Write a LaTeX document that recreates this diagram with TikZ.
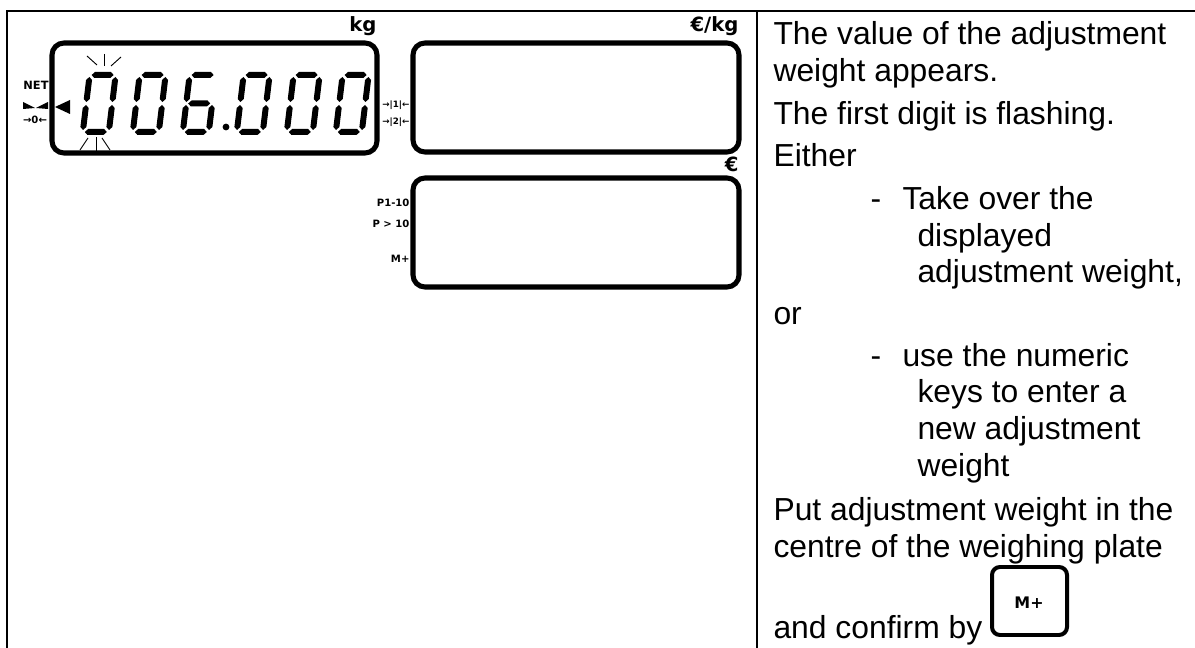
\documentclass[tikz,border=0pt]{standalone}
\usepackage{fontspec}
\setmainfont{Liberation Sans}
\newfontfamily\symfont{DejaVu Sans}
\usetikzlibrary{positioning}

% one segment of a seven-segment digit (pixel units, y pointing down)
\newcommand{\hseg}[3]{\fill (#1,#3) -- (#1+3,#3-3) -- (#2-3,#3-3) -- (#2,#3) -- (#2-3,#3+3) -- (#1+3,#3+3) -- cycle;}
\newcommand{\vseg}[3]{\fill (#1,#2) -- (#1+3,#2+3) -- (#1+3,#3-3) -- (#1,#3) -- (#1-3,#3-3) -- (#1-3,#2+3) -- cycle;}
\newcommand{\segA}{\hseg{5}{27}{3}}
\newcommand{\segB}{\vseg{29}{5}{30}}
\newcommand{\segC}{\vseg{29}{33}{58}}
\newcommand{\segD}{\hseg{5}{27}{60}}
\newcommand{\segE}{\vseg{3}{33}{58}}
\newcommand{\segF}{\vseg{3}{5}{30}}
\newcommand{\segG}{\hseg{5}{27}{31.5}}
\newcommand{\lcddigit}[3]{\begin{scope}[shift={(#1,#2)}, xslant=0.12] #3 \end{scope}}

\tikzset{
  frame/.style={line width=0.75pt},
  lcdbox/.style={line width=1.9pt, rounded corners=4.5pt},
  keybox/.style={line width=1.5pt, rounded corners=3pt},
  flash/.style={line width=0.35pt},
  bodytext/.style={anchor=base west, inner sep=0pt, font=\fontsize{12}{14}\selectfont},
  unitlabel/.style={anchor=base east, inner sep=0pt, font=\symfont\fontsize{7.4}{8}\selectfont\bfseries},
  tinylabel/.style={inner sep=0pt, font=\symfont\fontsize{3.8}{4}\selectfont\bfseries},
  tarelabel/.style={inner sep=0pt, anchor=east, font=\symfont\fontsize{3.3}{4}\selectfont\bfseries},
}

\begin{document}
\begin{tikzpicture}[x=0.377pt, y=-0.377pt]
  \useasboundingbox (0,0) rectangle (1195,648);

  % Table frame
  \draw[frame] (1195,11) -- (7,11) -- (7,648);
  \draw[frame] (757,11) -- (757,648);

  % Weight display
  \draw[lcdbox] (52,43) rectangle (377,153);
  \node[unitlabel] (kgunit) at (377,32) {kg};

  % Digits 006.000
  \lcddigit{87}{72}{\segA\segB\segC\segD\segE\segF}
  \lcddigit{137}{72}{\segA\segB\segC\segD\segE\segF}
  \lcddigit{187}{72}{\segA\segC\segD\segE\segF\segG}
  \fill (226,127) circle (3.4);
  \lcddigit{241}{72}{\segA\segB\segC\segD\segE\segF}
  \lcddigit{291}{72}{\segA\segB\segC\segD\segE\segF}
  \lcddigit{340}{72}{\segA\segB\segC\segD\segE\segF}

  % Flashing marks at first digit
  \draw[flash] (87,56) -- (97,65);
  \draw[flash] (104,54) -- (104,66);
  \draw[flash] (121,57) -- (111,66);
  \draw[flash] (80,150) -- (88,138);
  \draw[flash] (96,137) -- (96,152);
  \draw[flash] (102,138) -- (110,150);

  % Status symbols left of the weight display
  \node[tinylabel, font=\symfont\fontsize{4.3}{5}\selectfont\bfseries] (netlabel) at (36,85) {NET};
  \fill (23,102) -- (35,108) -- (23,109) -- cycle;
  \fill (48,102) -- (36,108) -- (48,109) -- cycle;
  \node[tinylabel] (zerolabel) at (35,120) {→0←};
  \fill (55,107) -- (70,100) -- (70,114) -- cycle;

  % Unit price display
  \draw[lcdbox] (413,43) rectangle (739,152);
  \node[unitlabel] (pricekg) at (739,32) {€/kg};
  \node[tarelabel] (tare1) at (410,105) {→|1|←};
  \node[tarelabel] (tare2) at (410,122) {→|2|←};

  % Total price display
  \draw[lcdbox] (413,178) rectangle (739,287);
  \node[unitlabel] (priceunit) at (739,172) {€};
  \node[tinylabel, anchor=east] (pone) at (410,203) {P1-10};
  \node[tinylabel, anchor=east] (pmore) at (410,224) {P > 10};
  \node[tinylabel, anchor=east] (mplus) at (410,259) {M+};

  % Instructions
  \node[bodytext] (l1) at (773,45) {The value of the adjustment};
  \node[bodytext] (l2) at (773,82) {weight appears.};
  \node[bodytext] (l3) at (773,125) {The first digit is flashing.};
  \node[bodytext] (l4) at (773,167) {Either};
  \node[bodytext] (d1) at (870,210) {-};
  \node[bodytext] (l5) at (902,210) {Take over the};
  \node[bodytext] (l6) at (917,247) {displayed};
  \node[bodytext] (l7) at (917,283) {adjustment weight,};
  \node[bodytext] (l8) at (773,325) {or};
  \node[bodytext] (d2) at (870,367) {-};
  \node[bodytext] (l9) at (902,367) {use the numeric};
  \node[bodytext] (l10) at (917,403) {keys to enter a};
  \node[bodytext] (l11) at (917,440) {new adjustment};
  \node[bodytext] (l12) at (917,477) {weight};
  \node[bodytext] (l13) at (773,520) {Put adjustment weight in the};
  \node[bodytext] (l14) at (773,557) {centre of the weighing plate};
  \node[bodytext] (l15) at (773,638) {and confirm by};

  % M+ key
  \draw[keybox] (992,567) rectangle (1067,635);
  \node[font=\symfont\fontsize{6}{7}\selectfont\bfseries, inner sep=0pt] (mkey) at (1029,603) {M+};
\end{tikzpicture}
\end{document}
